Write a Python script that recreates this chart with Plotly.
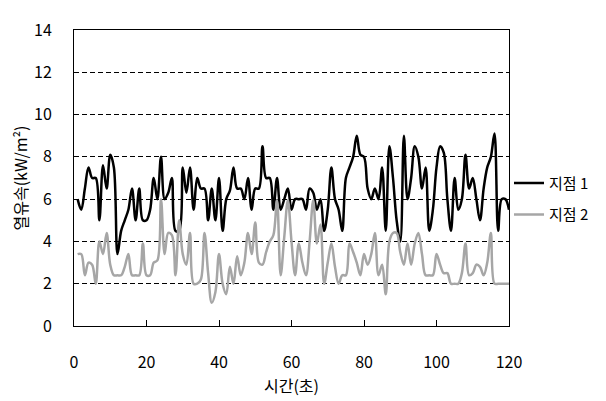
import plotly.graph_objects as go

time_s = list(range(1, 121))

site1 = [6.0, 5.5, 6.5, 7.5, 7.0, 7.0, 5.0, 7.6, 6.5, 8.1,
         7.5, 3.4, 4.5, 5.0, 5.5, 6.5, 5.0, 6.5, 5.0, 5.0,
         5.5, 7.0, 6.0, 8.0, 6.0, 6.3, 7.0, 4.5, 4.5, 7.5,
         6.3, 7.5, 5.5, 7.0, 6.5, 6.5, 5.0, 6.5, 5.0, 7.0,
         4.5, 6.0, 6.4, 7.5, 6.5, 6.5, 6.0, 7.0, 5.5, 6.5,
         6.5, 8.5, 7.0, 7.0, 5.5, 7.0, 5.5, 6.0, 6.5, 5.5,
         6.0, 6.0, 6.0, 5.5, 6.5, 6.3, 5.5, 6.0, 4.5, 5.5,
         7.5, 6.0, 5.5, 4.5, 7.0, 7.5, 8.0, 9.0, 8.1, 8.0,
         6.5, 6.0, 6.5, 6.0, 7.5, 4.5, 8.5, 7.0, 5.0, 4.0,
         9.0, 6.0, 7.0, 8.5, 8.0, 6.5, 7.5, 4.5, 5.5, 7.5,
         8.5, 8.2, 6.0, 4.5, 7.0, 5.5, 6.0, 8.1, 6.5, 7.0,
         6.0, 5.0, 6.5, 7.5, 8.0, 9.1, 4.5, 6.0, 6.0, 5.5]

site2 = [3.4, 3.4, 2.4, 3.0, 2.9, 2.0, 4.0, 3.4, 4.4, 2.9,
         2.4, 2.4, 2.4, 2.8, 3.4, 2.4, 2.4, 2.4, 3.9, 2.4,
         2.4, 3.0, 3.1, 6.0, 3.4, 4.4, 4.3, 2.4, 5.0, 3.4,
         2.9, 4.4, 2.0, 2.0, 2.2, 4.4, 2.5, 1.1, 1.6, 3.4,
         2.0, 1.5, 2.8, 2.0, 3.3, 2.4, 3.0, 4.4, 3.4, 4.9,
         3.0, 2.9, 3.5, 4.0, 4.3, 5.95, 2.4, 4.2, 5.95, 4.0,
         2.4, 3.9, 3.0, 2.4, 4.0, 5.95, 3.9, 4.8, 2.0, 3.0,
         3.9, 2.8, 2.0, 2.4, 2.4, 3.9, 3.5, 3.0, 2.4, 3.4,
         2.9, 3.4, 4.4, 2.4, 2.9, 1.5, 4.0, 4.4, 4.4, 3.5,
         2.9, 3.9, 2.9, 3.9, 4.4, 3.4, 2.4, 2.4, 2.4, 3.4,
         2.9, 2.5, 2.5, 2.0, 2.0, 2.0, 2.5, 3.9, 2.4, 2.5,
         2.9, 2.8, 2.4, 3.0, 4.4, 2.0, 2.0, 2.0, 2.0, 2.0]

series_names = ["지점 1", "지점 2"]
x_ticks = [0, 20, 40, 60, 80, 100, 120]
y_ticks = [0, 2, 4, 6, 8, 10, 12, 14]

FONT = "Noto Sans CJK KR"

fig = go.Figure()
fig.add_trace(go.Scatter(x=time_s, y=site1, mode="lines", name=series_names[0],
                         legendgroup="a",
                         line=dict(color="#000000", width=2.5, shape="spline", smoothing=1)))
fig.add_trace(go.Scatter(x=time_s, y=site2, mode="lines", name=series_names[1],
                         legendgroup="b",
                         line=dict(color="#A6A6A6", width=2.5, shape="spline", smoothing=1)))

fig.update_layout(
    width=606, height=401,
    margin=dict(l=74, r=95, t=30, b=75),
    paper_bgcolor="white", plot_bgcolor="white",
    font=dict(family=FONT, size=16, color="#000000"),
    showlegend=True,
    legend=dict(x=1.0, y=0.43, xanchor="left", yanchor="middle",
                font=dict(family=FONT, size=15),
                traceorder="grouped", tracegroupgap=9,
                bgcolor="rgba(0,0,0,0)"),
    xaxis=dict(range=[0, 120], tickvals=x_ticks, ticks="inside", ticklen=6,
               tickcolor="#000000", showline=True, linecolor="#000000", linewidth=1,
               mirror=True, showgrid=False, zeroline=False,
               ticklabelstandoff=22,
               title=dict(text="시간(초)", standoff=2, font=dict(size=16))),
    yaxis=dict(range=[0, 14], tickvals=y_ticks, ticks="", showline=True,
               linecolor="#000000", linewidth=1, mirror=True,
               showgrid=True, gridcolor="#000000", gridwidth=1, griddash="5px,3px",
               zeroline=False, ticklabelstandoff=18,
               title=dict(text="열유속(kW/m²)", standoff=2, font=dict(size=16))),
)

fig.write_html("out.html")
